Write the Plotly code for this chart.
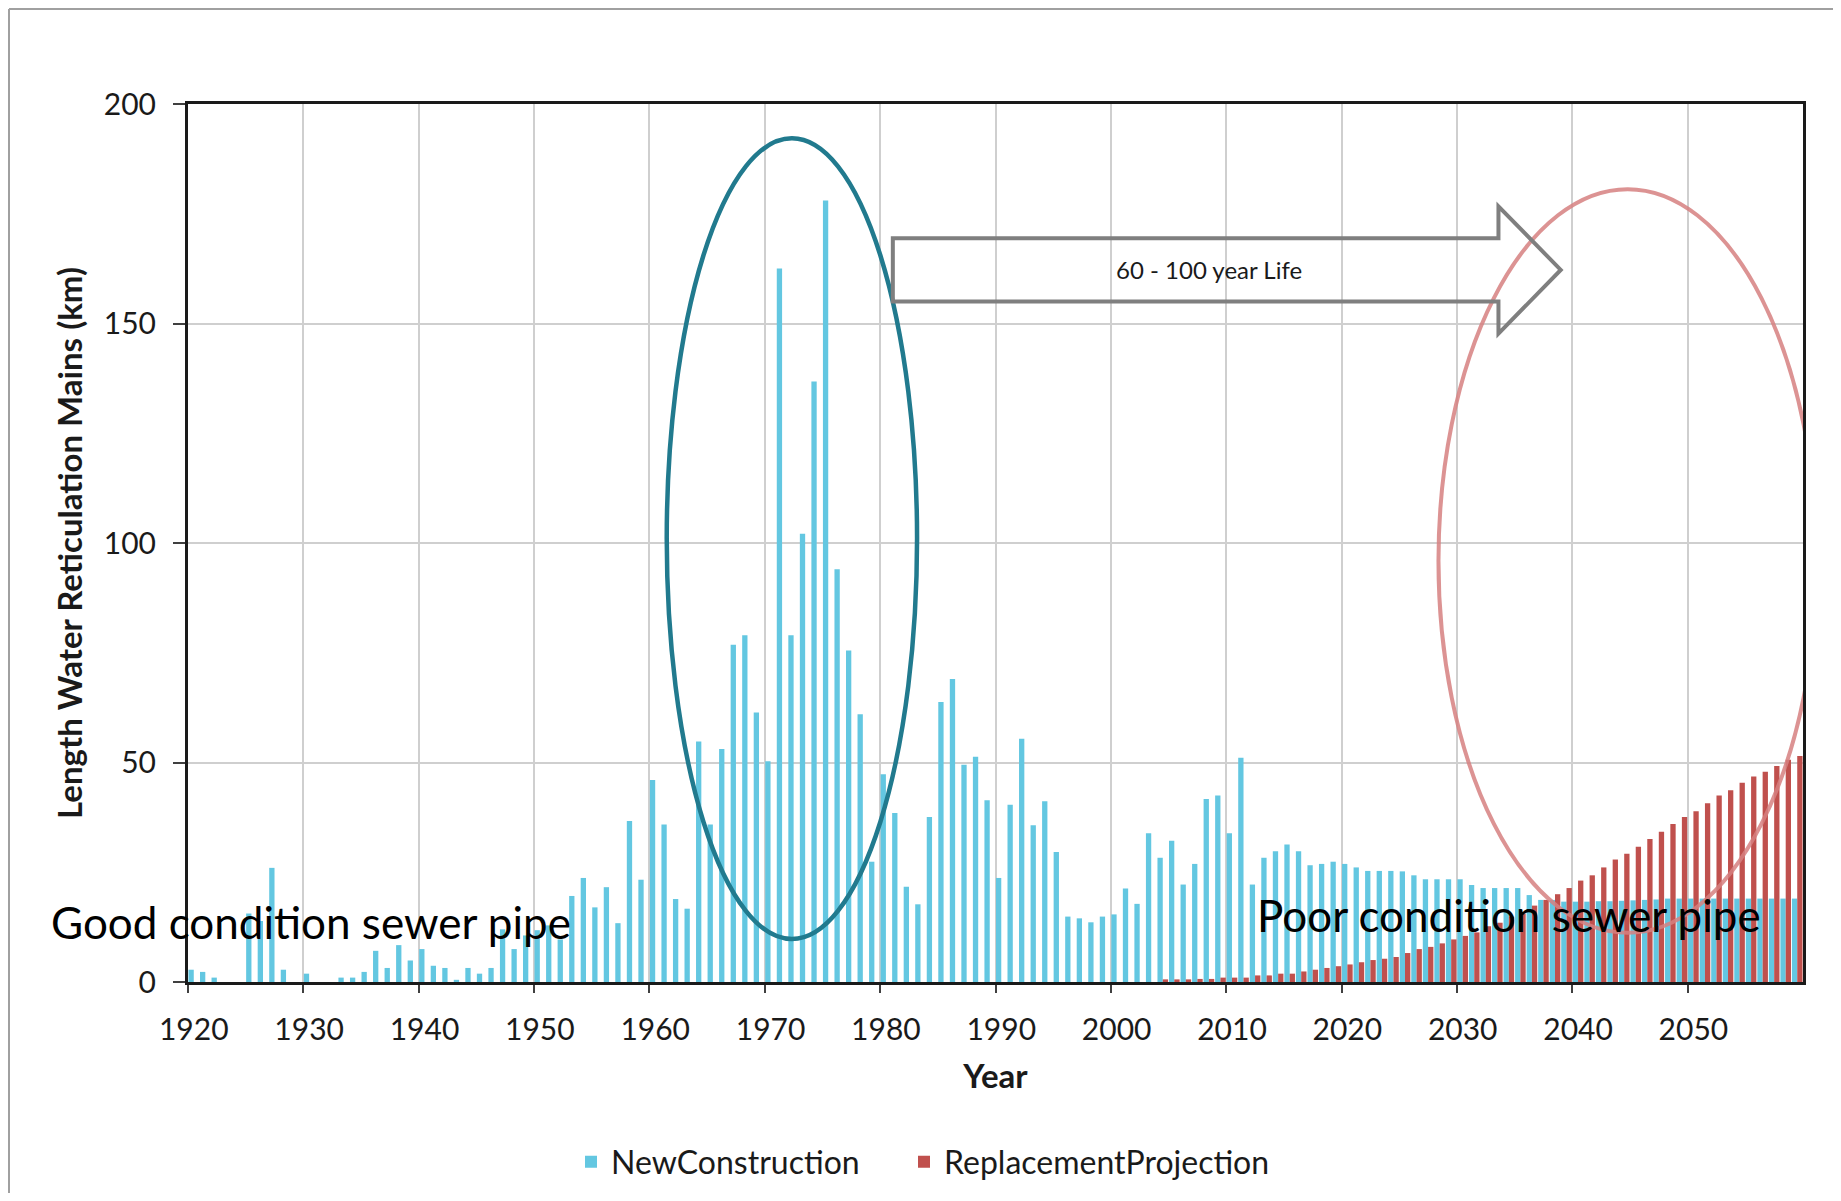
import plotly.graph_objects as go

# ---------------- data ----------------
years = list(range(1920, 2060))

new_construction = [
    2.8, 2.3, 1.0, 0, 0, 15.6, 13.9, 26.0, 2.8, 0,            # 1920s
    1.9, 0, 0, 1.0, 1.0, 2.3, 7.1, 3.2, 8.4, 4.9,              # 1930s
    7.5, 3.7, 3.2, 0.5, 3.2, 1.9, 3.2, 12.0, 7.5, 10.6,        # 1940s
    11.8, 12.9, 9.7, 19.6, 23.7, 17.0, 21.6, 13.4, 36.7, 23.3,  # 1950s
    46.0, 35.9, 18.9, 16.7, 54.8, 35.9, 53.1, 76.8, 79.0, 61.4,  # 1960s
    50.3, 162.5, 79.0, 102.1, 136.8, 178.0, 94.0, 75.5, 61.0, 27.4,  # 1970s
    47.3, 38.5, 21.7, 17.7, 37.6, 63.8, 69.0, 49.5, 51.3, 41.4,  # 1980s
    23.7, 40.4, 55.4, 35.7, 41.2, 29.6, 14.9, 14.5, 13.6, 14.9,  # 1990s
    15.4, 21.3, 17.8, 33.9, 28.3, 32.2, 22.2, 26.9, 41.7, 42.5,  # 2000s
    33.9, 51.1, 22.2, 28.3, 29.8, 31.3, 29.8, 26.6, 26.9, 27.4,  # 2010s
    26.9, 26.1, 25.3, 25.3, 25.3, 25.2, 24.3, 23.4, 23.4, 23.4,  # 2020s
    23.4, 22.1, 21.4, 21.4, 21.4, 21.4, 19.8, 18.7, 18.7, 18.3,  # 2030s
    18.3, 18.3, 18.4, 18.4, 18.5, 18.6, 18.7, 18.8, 19.0, 19.0,  # 2040s
    19.0, 19.0, 19.0, 19.0, 19.0, 19.0, 19.0, 19.0, 19.0, 19.0,  # 2050s
]

replacement_projection = [0] * 84 + [
    0.6, 0.6, 0.6, 0.7, 0.7, 1.0,                                # 2004-2009
    1.0, 1.0, 1.5, 1.5, 1.9, 1.9, 2.4, 2.8, 3.2, 3.6,            # 2010s
    4.0, 4.5, 5.0, 5.3, 5.7, 6.6, 7.5, 8.0, 8.8, 9.7,            # 2020s
    10.5, 11.3, 12.7, 13.5, 14.9, 15.6, 17.4, 18.7, 20.0, 21.4,  # 2030s
    23.1, 24.3, 26.1, 27.9, 29.2, 30.8, 32.6, 34.2, 36.0, 37.6,  # 2040s
    38.9, 40.7, 42.5, 43.7, 45.4, 46.8, 47.9, 49.2, 50.6, 51.5,  # 2050s
]

tick_years = list(range(1920, 2060, 10))
grid_years = [y - 0.5 for y in tick_years]

series_names = ["NewConstruction", "ReplacementProjection"]
series_colors = ["#63C7E1", "#C0504D"]

# annotation geometry (data units)
ellipse_1970s = dict(x0=1961.0, x1=1982.7, y0=9.8, y1=192.2)
ellipse_2040s = dict(x0=2027.9, x1=2060.7, y0=11.2, y1=180.6)
arrow = dict(x_tail=1980.6, x_neck=2033.1, x_tip=2038.5,
             body_lo=155.0, body_hi=169.4, head_lo=147.7, head_hi=176.7)

# ---------------- figure ----------------
# page has an 8px body margin: size the figure so it fits the 1841x1201 window
OFF = 8
W, H = 1841 - 2 * OFF, 1201 - 2 * OFF
ML = 188 - OFF
MT = 104 - OFF
MR = W - (1803 - OFF)
MB = H - (982 - OFF)
FONT = "Lato"

fig = go.Figure()
fig.add_trace(go.Bar(x=years, y=new_construction, name=series_names[0], legend="legend",
                     marker=dict(color=series_colors[0], line=dict(width=0))))
fig.add_trace(go.Bar(x=years, y=replacement_projection, name=series_names[1], legend="legend2",
                     marker=dict(color=series_colors[1], line=dict(width=0))))
# invisible trace anchoring the overlay axis that carries the boundary gridlines
fig.add_trace(go.Scatter(x=[years[0]], y=[0], xaxis="x2", mode="markers",
                         marker=dict(opacity=0), showlegend=False, hoverinfo="skip"))

xr = [years[0] - 0.5, years[-1] + 0.5]
pw, ph = W - ML - MR, H - MT - MB


def px_x(page_px):
    return (page_px - OFF - ML) / pw


def px_y(page_px):
    return (H - MB - (page_px - OFF)) / ph


legend_common = dict(orientation="h", xanchor="left", yanchor="middle",
                     font=dict(size=32, color="#1a1a1a"), itemwidth=30,
                     bgcolor="rgba(0,0,0,0)")

fig.update_layout(
    width=W, height=H,
    margin=dict(l=ML, r=MR, t=MT, b=MB, autoexpand=False),
    paper_bgcolor="white", plot_bgcolor="white",
    font=dict(family=FONT, color="#1a1a1a"),
    barmode="group", bargap=0.08, bargroupgap=0.0,
    showlegend=True,
    legend=dict(x=px_x(571), y=px_y(1162), **legend_common),
    legend2=dict(x=px_x(904), y=px_y(1162), **legend_common),
    xaxis=dict(range=xr, tickmode="array", tickvals=tick_years,
               ticktext=[str(t) for t in tick_years], automargin=False,
               showgrid=False, zeroline=False, ticks="",
               tickfont=dict(size=30, color="#1a1a1a"), ticklabelstandoff=19,
               showline=True, linecolor="#1a1a1a", linewidth=3, mirror=True,
               title=dict(text="<b>Year</b>", font=dict(size=33, color="#1a1a1a"), standoff=20)),
    xaxis2=dict(range=xr, overlaying="x", side="bottom", tickmode="array",
                tickvals=grid_years, showticklabels=False, automargin=False,
                showgrid=True, gridcolor="#CFCFCF", gridwidth=2,
                ticks="outside", ticklen=10, tickwidth=2, tickcolor="#404040",
                zeroline=False, showline=False, layer="below traces"),
    yaxis=dict(range=[0, 200], tickmode="linear", tick0=0, dtick=50, automargin=False,
               showgrid=True, gridcolor="#CFCFCF", gridwidth=2, zeroline=False,
               ticks="outside", ticklen=12, tickwidth=2, tickcolor="#404040",
               tickfont=dict(size=30, color="#1a1a1a"), ticklabelstandoff=11,
               showline=True, linecolor="#1a1a1a", linewidth=3, mirror=True,
               title=dict(text="<b>Length Water Reticulation Mains (km)</b>",
                          font=dict(size=33, color="#1a1a1a"), standoff=12)),
)

# ellipses
fig.add_shape(type="circle", xref="x", yref="y", **ellipse_1970s,
              line=dict(color="#217A8E", width=4.5), layer="above")
fig.add_shape(type="circle", xref="x", yref="y", **ellipse_2040s,
              line=dict(color="rgba(214,128,128,0.85)", width=4), layer="above")

# block arrow
a = arrow
ymid = (a["body_lo"] + a["body_hi"]) / 2
arrow_path = (f"M {a['x_tail']},{a['body_lo']} L {a['x_neck']},{a['body_lo']} "
              f"L {a['x_neck']},{a['head_lo']} L {a['x_tip']},{ymid} "
              f"L {a['x_neck']},{a['head_hi']} L {a['x_neck']},{a['body_hi']} "
              f"L {a['x_tail']},{a['body_hi']} Z")
fig.add_shape(type="path", xref="x", yref="y", path=arrow_path,
              line=dict(color="#7F7F7F", width=4), fillcolor="rgba(0,0,0,0)", layer="above")

fig.add_annotation(x=2008, y=ymid, xref="x", yref="y", text="60 - 100 year Life",
                   showarrow=False, font=dict(size=24, color="#1a1a1a"))

fig.add_annotation(x=px_x(49), y=13.6, xref="paper", yref="y", text="Good condition sewer pipe",
                   showarrow=False, xanchor="left", yanchor="middle",
                   font=dict(size=44, color="black"))
fig.add_annotation(x=2012.0, y=15.2, xref="x", yref="y", text="Poor condition sewer pipe",
                   showarrow=False, xanchor="left", yanchor="middle",
                   font=dict(size=44, color="black"))

# slide frame lines
fig.add_shape(type="line", xref="paper", yref="paper",
              x0=px_x(9), x1=px_x(1845), y0=px_y(9), y1=px_y(9),
              line=dict(color="#A0A0A0", width=2))
fig.add_shape(type="line", xref="paper", yref="paper",
              x0=px_x(9), x1=px_x(9), y0=px_y(9), y1=px_y(1205),
              line=dict(color="#A0A0A0", width=2))

fig.write_html("out.html")
